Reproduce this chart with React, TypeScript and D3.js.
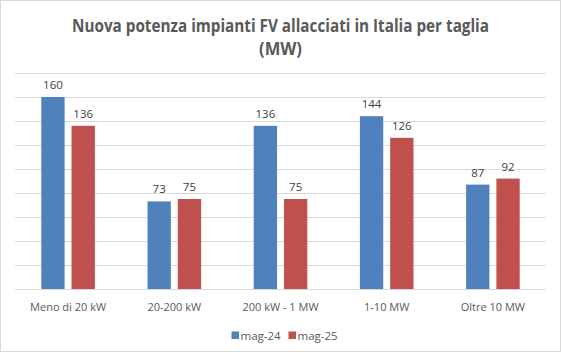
import React, { useEffect, useRef } from "react";
import * as d3 from "d3";

// valori (MW)
const categories = ["Meno di 20 kW", "20-200 kW", "200 kW - 1 MW", "1-10 MW", "Oltre 10 MW"];
const seriesNames = ["mag-24", "mag-25"];
const mag24 = [160, 73, 136, 144, 87];
const mag25 = [136, 75, 75, 126, 92];
const yTicks = [0, 20, 40, 60, 80, 100, 120, 140, 160, 180];
const colors = ["#4F81BD", "#C0504D"];

const width = 561;
const height = 352;
const margin = { top: 73, bottom: 63, left: 15, right: 15 };
const font = "'Open Sans', 'Noto Sans', sans-serif";
const textColor = "#595959";

const App = () => {
  const ref = useRef<SVGSVGElement>(null);

  useEffect(() => {
    const svg = d3.select(ref.current);
    svg.selectAll("*").remove();

    const x0 = d3
      .scaleBand()
      .domain(categories)
      .range([margin.left, width - margin.right])
      .padding(0);
    const groupW = 53.6;
    const x1 = d3
      .scaleBand()
      .domain(seriesNames)
      .range([0, groupW])
      .paddingInner(0.23);
    const y = d3
      .scaleLinear()
      .domain([0, 180])
      .range([height - margin.bottom, margin.top]);

    svg
      .append("rect")
      .attr("x", 0.5)
      .attr("y", 0.5)
      .attr("width", width - 1)
      .attr("height", height - 1)
      .attr("fill", "#fff")
      .attr("stroke", "#D9D9D9");

    // titolo
    const title = svg
      .append("text")
      .attr("text-anchor", "middle")
      .attr("fill", textColor)
      .attr("font-family", font)
      .attr("font-size", 17.5)
      .attr("font-weight", "bold");
    title
      .append("tspan")
      .attr("x", width / 2)
      .attr("y", 31.5)
      .attr("textLength", 417)
      .attr("lengthAdjust", "spacingAndGlyphs")
      .text("Nuova potenza impianti FV allacciati in Italia per taglia");
    title
      .append("tspan")
      .attr("x", width / 2)
      .attr("y", 54.5)
      .attr("textLength", 43)
      .attr("lengthAdjust", "spacingAndGlyphs")
      .text("(MW)");

    // griglia
    svg
      .append("g")
      .selectAll("line")
      .data(yTicks)
      .join("line")
      .attr("x1", margin.left)
      .attr("x2", width - margin.right)
      .attr("y1", (d) => Math.round(y(d)) + 0.5)
      .attr("y2", (d) => Math.round(y(d)) + 0.5)
      .attr("stroke", "#D9D9D9")
      .attr("stroke-width", 1);

    const rows = categories.map((c, i) => ({ cat: c, vals: [mag24[i], mag25[i]] }));

    const groups = svg
      .append("g")
      .selectAll("g")
      .data(rows)
      .join("g")
      .attr(
        "transform",
        (d) => `translate(${x0(d.cat)! + (x0.bandwidth() - groupW) / 2},0)`
      );

    groups
      .selectAll("rect")
      .data((d) => d.vals.map((v, j) => ({ v, s: seriesNames[j], j })))
      .join("rect")
      .attr("x", (d) => x1(d.s)!)
      .attr("y", (d) => y(d.v))
      .attr("width", x1.bandwidth())
      .attr("height", (d) => y(0) - y(d.v))
      .attr("fill", (d) => colors[d.j]);

    groups
      .selectAll("text")
      .data((d) => d.vals.map((v, j) => ({ v, s: seriesNames[j] })))
      .join("text")
      .attr("x", (d) => x1(d.s)! + x1.bandwidth() / 2)
      .attr("y", (d) => y(d.v) - 8)
      .attr("text-anchor", "middle")
      .attr("font-family", font)
      .attr("font-size", 11.5)
      .attr("fill", "#404040")
      .text((d) => d.v);

    // etichette asse x
    svg
      .append("g")
      .selectAll("text")
      .data(categories)
      .join("text")
      .attr("x", (d) => x0(d)! + x0.bandwidth() / 2)
      .attr("y", 310.5)
      .attr("text-anchor", "middle")
      .attr("font-family", font)
      .attr("font-size", 11)
      .attr("fill", textColor)
      .text((d) => d);

    // legenda
    const legendX = [231.5, 288.5];
    const legend = svg
      .append("g")
      .selectAll("g")
      .data(seriesNames)
      .join("g")
      .attr("transform", (d, i) => `translate(${legendX[i]},${331.5})`);
    legend
      .append("rect")
      .attr("width", 7.5)
      .attr("height", 7.5)
      .attr("fill", (d, i) => colors[i]);
    legend
      .append("text")
      .attr("x", 9)
      .attr("y", 8)
      .attr("font-family", font)
      .attr("font-size", 11.5)
      .attr("fill", textColor)
      .text((d) => d);
  }, []);

  return (
    <svg
      ref={ref}
      width={width}
      height={height}
      style={{ position: "fixed", top: 0, left: 0, display: "block" }}
    ></svg>
  );
};

export default App;
